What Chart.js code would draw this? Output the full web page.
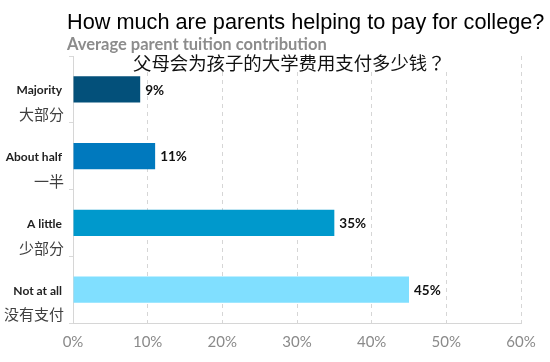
<!DOCTYPE html>
<html>
<head>
<meta charset="utf-8">
<script src="https://cdn.jsdelivr.net/npm/chart.js@4"></script>
<style>
  html, body { margin: 0; padding: 0; background: #fff; }
  #wrap { width: 550px; height: 362px; }
</style>
</head>
<body>
<div id="wrap"><canvas id="chart"></canvas></div>
<script>
// chart data
var labelsEn = ["Majority", "About half", "A little", "Not at all"];
var labelsZh = ["大部分", "一半", "少部分", "没有支付"];
var shares = [9, 11, 35, 45];
var barColors = ["#03507a", "#0079be", "#0099cc", "#80dfff"];
var xTicks = [0, 10, 20, 30, 40, 50, 60];

var titleEn = "How much are parents helping to pay for college?";
var subTitle = "Average parent tuition contribution";
var titleZh = "父母会为孩子的大学费用支付多少钱？";

// Titles drawn on top, Chinese line gets a white box so gridlines stop under it
var titlesPlugin = {
    id: "titles",
    afterDraw: function(chart) {
        var ctx = chart.ctx;
        ctx.save();
        ctx.textBaseline = "middle";
        ctx.textAlign = "left";
        ctx.fillStyle = "#000";
        ctx.font = "21.7px 'Liberation Sans'";
        ctx.fillText(titleEn, 67, 23);
        ctx.fillStyle = "#8c8c8c";
        ctx.font = "bold 16.5px Lato";
        ctx.fillText(subTitle, 67, 45);
        ctx.font = "18.4px 'Noto Sans CJK TC'";
        var w = ctx.measureText(titleZh).width;
        ctx.fillStyle = "#fff";
        ctx.fillRect(128, 54, w + 10, 15);
        ctx.fillStyle = "#111";
        ctx.fillText(titleZh, 133, 63);
        ctx.restore();
    }
};

// Category labels: English line + Chinese line, different fonts
var catLabelsPlugin = {
    id: "catLabels",
    afterDraw: function(chart) {
        var ctx = chart.ctx;
        var yScale = chart.scales.y;
        var right = yScale.right - 11;
        ctx.save();
        ctx.textAlign = "right";
        ctx.textBaseline = "middle";
        labelsEn.forEach(function(lab, i) {
            var y = yScale.getPixelForValue(i);
            ctx.fillStyle = "#222";
            ctx.font = "bold 12px Lato";
            ctx.fillText(lab, right, y + 1);
            ctx.fillStyle = "#404040";
            ctx.font = "15px 'Noto Sans CJK SC'";
            ctx.fillText(labelsZh[i], right + 2, y + 25);
        });
        ctx.restore();
    }
};

// value labels at end of bars
var valueLabelsPlugin = {
    id: "valueLabels",
    afterDatasetsDraw: function(chart) {
        var ctx = chart.ctx;
        var meta = chart.getDatasetMeta(0);
        ctx.save();
        ctx.fillStyle = "#111";
        ctx.font = "bold 13.5px Lato";
        ctx.textAlign = "left";
        ctx.textBaseline = "middle";
        meta.data.forEach(function(bar, i) {
            ctx.fillText(shares[i] + "%", bar.x + 5, bar.y + 1);
        });
        ctx.restore();
    }
};

var myChart = new Chart(document.getElementById("chart").getContext("2d"), {
    type: "bar",
    data: {
        labels: labelsEn,
        datasets: [{
            data: shares,
            backgroundColor: barColors,
            borderColor: barColors,
            borderWidth: 0,
            categoryPercentage: 1,
            barPercentage: 0.39
        }]
    },
    options: {
        indexAxis: "y",
        responsive: true,
        maintainAspectRatio: false,
        animation: false,
        layout: {
            padding: { top: 56, right: 29, bottom: 1, left: 0 }
        },
        plugins: {
            legend: { display: false },
            tooltip: { enabled: false }
        },
        scales: {
            x: {
                min: 0,
                max: 60,
                afterBuildTicks: function(scale) {
                    scale.ticks = xTicks.map(function(v) { return { value: v }; });
                },
                ticks: {
                    color: "#8a8a8a",
                    font: { family: "Lato", size: 15 },
                    padding: 10,
                    callback: function(v) { return v + "%"; }
                },
                grid: {
                    color: "#d6d6d6",
                    drawTicks: false,
                    tickLength: 0
                },
                border: { display: true, color: "#d6d6d6", dash: [4, 4] }
            },
            y: {
                afterFit: function(scale) { scale.width = 73; },
                ticks: { display: false },
                grid: {
                    offset: true,
                    drawOnChartArea: false,
                    color: "#d9d9d9",
                    tickLength: 4
                },
                border: { display: true, color: "#d6d6d6" }
            }
        }
    },
    plugins: [titlesPlugin, catLabelsPlugin, valueLabelsPlugin]
});
</script>
</body>
</html>
